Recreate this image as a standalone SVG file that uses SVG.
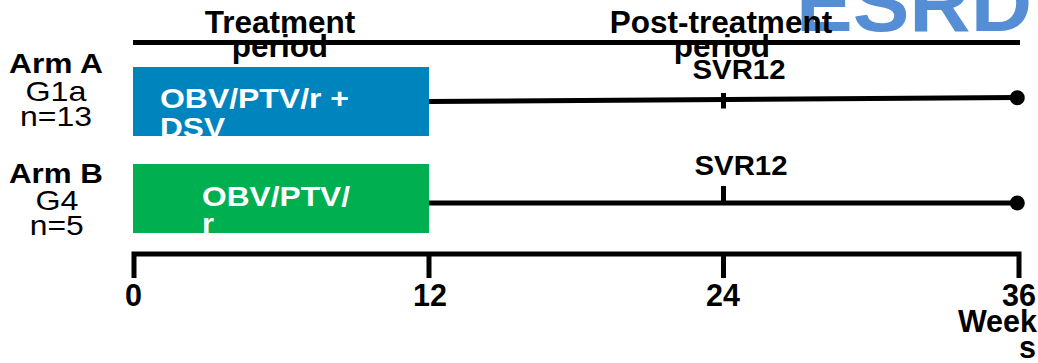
<svg xmlns="http://www.w3.org/2000/svg" width="1038" height="363" viewBox="0 0 1038 363">
<style>
text{font-family:"Liberation Sans",Arial,sans-serif;fill:#000}
.b{font-weight:bold}
.h{font-size:31.5px;font-weight:bold}
.s{font-size:28.5px}
.ax{font-size:30.5px;font-weight:bold}
.w{fill:#fff;font-weight:bold;font-size:28.5px}
.ln{stroke:#000;stroke-width:5;fill:none}
</style>
<defs>
<clipPath id="cA"><rect x="133" y="67" width="296" height="69"/></clipPath>
<clipPath id="cB"><rect x="133" y="164" width="296" height="69"/></clipPath>
</defs>
<text x="796" y="31" font-size="81" font-weight="bold" style="fill:#558ED5" textLength="236" lengthAdjust="spacingAndGlyphs">ESRD</text>
<g id="header-treatment">
<text class="h" x="280" y="32.7" text-anchor="middle">Treatment</text>
<text class="h" x="280" y="57" text-anchor="middle">period</text>
</g>
<g id="header-post">
<text class="h" x="721" y="32.7" text-anchor="middle">Post-treatment</text>
<text class="h" x="722" y="57" text-anchor="middle">period</text>
</g>
<g id="arm-a-label">
<text class="s b" x="56" y="73" text-anchor="middle" textLength="94" lengthAdjust="spacingAndGlyphs">Arm A</text>
<text class="s" x="56" y="101" text-anchor="middle" textLength="61" lengthAdjust="spacingAndGlyphs">G1a</text>
<text class="s" x="56" y="126" text-anchor="middle" textLength="72" lengthAdjust="spacingAndGlyphs">n=13</text>
</g>
<g id="arm-b-label">
<text class="s b" x="56" y="183" text-anchor="middle" textLength="94" lengthAdjust="spacingAndGlyphs">Arm B</text>
<text class="s" x="57" y="210" text-anchor="middle" textLength="43" lengthAdjust="spacingAndGlyphs">G4</text>
<text class="s" x="56.7" y="235" text-anchor="middle" textLength="54" lengthAdjust="spacingAndGlyphs">n=5</text>
</g>
<g id="arm-a-box">
<rect x="133" y="67" width="296" height="69" fill="#0084BD"/>
<g clip-path="url(#cA)">
<text class="w" x="160" y="108.3" textLength="189" lengthAdjust="spacingAndGlyphs">OBV/PTV/r +</text>
<text class="w" x="160" y="137" textLength="65" lengthAdjust="spacingAndGlyphs">DSV</text>
</g>
</g>
<g id="arm-b-box">
<rect x="133" y="164" width="296" height="69" fill="#00B050"/>
<g clip-path="url(#cB)">
<text class="w" x="202" y="206" textLength="148" lengthAdjust="spacingAndGlyphs">OBV/PTV/</text>
<text class="w" x="202" y="233" textLength="12" lengthAdjust="spacingAndGlyphs">r</text>
</g>
</g>
<g id="svr-a"><text class="s b" x="739" y="79.3" text-anchor="middle" textLength="93" lengthAdjust="spacingAndGlyphs">SVR12</text></g>
<g id="svr-b"><text class="s b" x="741" y="175" text-anchor="middle" textLength="93" lengthAdjust="spacingAndGlyphs">SVR12</text></g>
<g id="connectors">
<line class="ln" x1="133" y1="42.5" x2="1020" y2="42.5"/>
<line class="ln" x1="429" y1="101.5" x2="1017" y2="97.5"/>
<line class="ln" x1="723.5" y1="93" x2="723.5" y2="108.5"/>
<circle cx="1017.3" cy="97.7" r="7.5"/>
<line class="ln" x1="429" y1="203" x2="1017" y2="203"/>
<line class="ln" x1="723.5" y1="186" x2="723.5" y2="203"/>
<circle cx="1017.3" cy="203" r="7.5"/>
<polyline class="ln" points="134,278 134,254 1019,254 1019,278"/>
<line class="ln" x1="429" y1="254" x2="429" y2="278"/>
<line class="ln" x1="723.5" y1="254" x2="723.5" y2="278"/>
</g>
<g id="axis-labels">
<text class="ax" x="133.5" y="306" text-anchor="middle">0</text>
<text class="ax" x="430" y="306" text-anchor="middle">12</text>
<text class="ax" x="723" y="306" text-anchor="middle">24</text>
<text class="ax" x="1036" y="306" text-anchor="end">36</text>
<text class="ax" x="1037" y="332" text-anchor="end">Week</text>
<text class="ax" x="1036" y="358" text-anchor="end">s</text>
</g>
</svg>
